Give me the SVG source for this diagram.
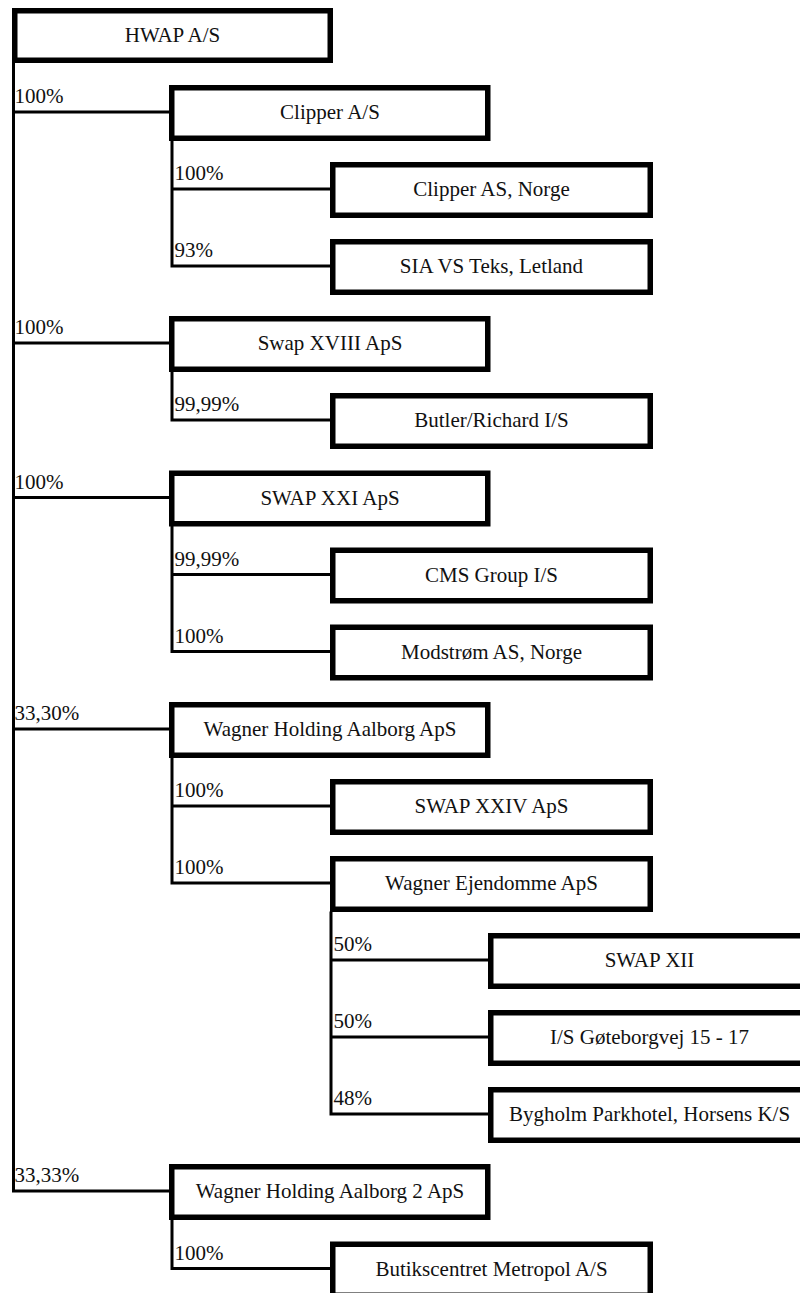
<svg xmlns="http://www.w3.org/2000/svg" width="800" height="1293" viewBox="0 0 800 1293">
<style>
.box{fill:#fff;stroke:#000;stroke-width:5.5}
.t{font-family:'Liberation Serif','Times New Roman',serif;font-size:21px;fill:#111;text-anchor:middle}
.p{font-family:'Liberation Serif','Times New Roman',serif;font-size:21px;fill:#111}
.c{fill:none;stroke:#000;stroke-width:3}
</style>
<rect width="800" height="1293" fill="#fff"/>
<g id="connectors">
<path class="c" d="M13.5,63 V1192.5 M13.5,112 H169 M13.5,343 H169 M13.5,497.5 H169 M13.5,729 H169 M13.5,1191 H169"/>
<path class="c" d="M172,141 V267.5 M172,189 H330 M172,266 H330"/>
<path class="c" d="M172,371 V421.5 M172,420 H330"/>
<path class="c" d="M172,526 V653 M172,574.5 H330 M172,651.5 H330"/>
<path class="c" d="M172,757.5 V884.5 M172,806 H330 M172,883 H330"/>
<path class="c" d="M331,911.5 V1115.5 M331,960 H488 M331,1037 H488 M331,1114 H488"/>
<path class="c" d="M172,1219.5 V1270 M172,1268.5 H330"/>
<text class="p" x="14.5" y="103">100%</text>
<text class="p" x="174.5" y="180">100%</text>
<text class="p" x="174.5" y="257">93%</text>
<text class="p" x="14.5" y="334">100%</text>
<text class="p" x="174.5" y="411">99,99%</text>
<text class="p" x="14.5" y="488.5">100%</text>
<text class="p" x="174.5" y="565.5">99,99%</text>
<text class="p" x="174.5" y="642.5">100%</text>
<text class="p" x="14.5" y="720">33,30%</text>
<text class="p" x="174.5" y="797">100%</text>
<text class="p" x="174.5" y="874">100%</text>
<text class="p" x="333.5" y="951">50%</text>
<text class="p" x="333.5" y="1028">50%</text>
<text class="p" x="333.5" y="1105">48%</text>
<text class="p" x="14.5" y="1182">33,33%</text>
<text class="p" x="174.5" y="1259.5">100%</text>
</g>
<g id="n-hwap"><rect class="box" x="14.75" y="10.75" width="315.5" height="49.5"/><text class="t" x="172.5" y="42">HWAP A/S</text></g>
<g id="n-clipper"><rect class="box" x="171.75" y="87.75" width="316" height="50.5"/><text class="t" x="330" y="119">Clipper A/S</text></g>
<g id="n-clipper-norge"><rect class="box" x="332.75" y="164.75" width="317.5" height="50.5"/><text class="t" x="491.5" y="196">Clipper AS, Norge</text></g>
<g id="n-sia"><rect class="box" x="332.75" y="241.75" width="317.5" height="50.5"/><text class="t" x="491.5" y="273">SIA VS Teks, Letland</text></g>
<g id="n-swap18"><rect class="box" x="171.75" y="318.75" width="316" height="50.5"/><text class="t" x="330" y="350">Swap XVIII ApS</text></g>
<g id="n-butler"><rect class="box" x="332.75" y="395.75" width="317.5" height="50.5"/><text class="t" x="491.5" y="427">Butler/Richard I/S</text></g>
<g id="n-swap21"><rect class="box" x="171.75" y="473.25" width="316" height="50.5"/><text class="t" x="330" y="504.5">SWAP XXI ApS</text></g>
<g id="n-cms"><rect class="box" x="332.75" y="550.25" width="317.5" height="50.5"/><text class="t" x="491.5" y="581.5">CMS Group I/S</text></g>
<g id="n-modstrom"><rect class="box" x="332.75" y="627.25" width="317.5" height="50.5"/><text class="t" x="491.5" y="658.5">Modstrøm AS, Norge</text></g>
<g id="n-wagner"><rect class="box" x="171.75" y="704.75" width="316" height="50.5"/><text class="t" x="330" y="736">Wagner Holding Aalborg ApS</text></g>
<g id="n-swap24"><rect class="box" x="332.75" y="781.75" width="317.5" height="50.5"/><text class="t" x="491.5" y="813">SWAP XXIV ApS</text></g>
<g id="n-ejendomme"><rect class="box" x="332.75" y="858.75" width="317.5" height="50.5"/><text class="t" x="491.5" y="890">Wagner Ejendomme ApS</text></g>
<g id="n-swap12"><rect class="box" x="490.75" y="935.75" width="318" height="50.5"/><text class="t" x="649.5" y="967">SWAP XII</text></g>
<g id="n-goteborgvej"><rect class="box" x="490.75" y="1012.75" width="318" height="50.5"/><text class="t" x="649.5" y="1044">I/S Gøteborgvej 15 - 17</text></g>
<g id="n-bygholm"><rect class="box" x="490.75" y="1089.75" width="318" height="50.5"/><text class="t" x="649.5" y="1121">Bygholm Parkhotel, Horsens K/S</text></g>
<g id="n-wagner2"><rect class="box" x="171.75" y="1166.75" width="316" height="50.5"/><text class="t" x="330" y="1198">Wagner Holding Aalborg 2 ApS</text></g>
<g id="n-butik"><rect class="box" x="332.75" y="1244.25" width="317.5" height="51"/><text class="t" x="491.5" y="1276">Butikscentret Metropol A/S</text></g>
</svg>
